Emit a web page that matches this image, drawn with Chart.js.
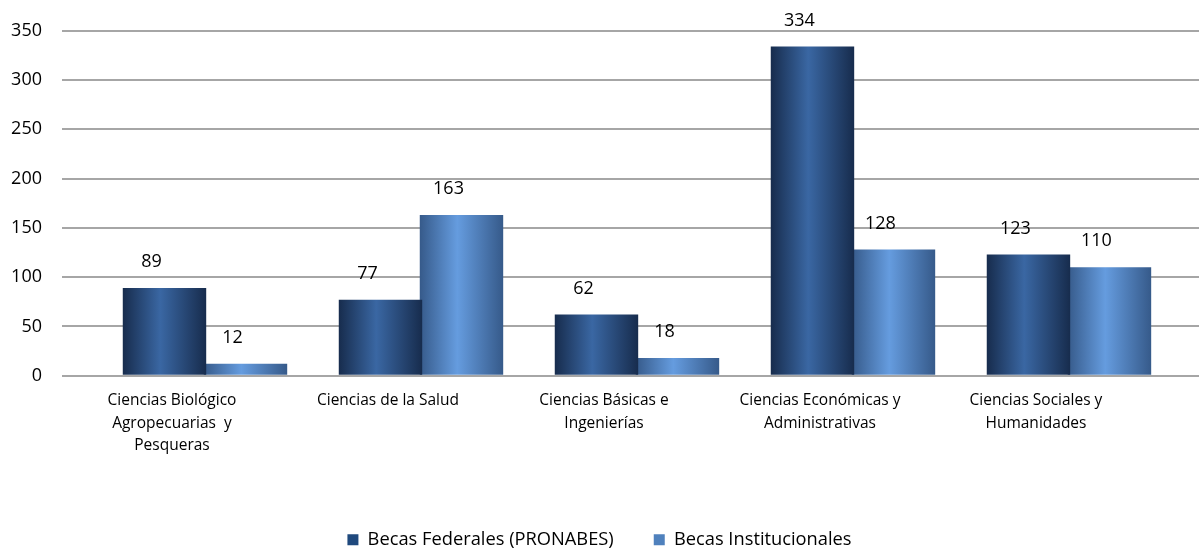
<!DOCTYPE html>
<html>
<head>
<meta charset="utf-8">
<script src="https://cdn.jsdelivr.net/npm/chart.js@4/dist/chart.umd.min.js"></script>
<style>
  html, body { margin: 0; padding: 0; background: #fff; }
  #wrap { width: 1199px; height: 548px; }
</style>
</head>
<body>
<div id="wrap"><canvas id="myChart" width="1199" height="548"></canvas></div>
<script>
const categorias = [
  ['Ciencias Biológico', 'Agropecuarias  y', 'Pesqueras'],
  'Ciencias de la Salud',
  ['Ciencias Básicas e', 'Ingenierías'],
  ['Ciencias Económicas y', 'Administrativas'],
  ['Ciencias Sociales y', 'Humanidades']
];
const federales = [89, 77, 62, 334, 123];
const institucionales = [12, 163, 18, 128, 110];
const ticksY = [0, 50, 100, 150, 200, 250, 300, 350];

const fuente = '"Open Sans", sans-serif';
const CP = 0.75, BP = 1.03;

// degradado horizontal tipo cilindro, calculado desde la escala
function degradado(c, oscuro, claro) {
  const chart = c.chart;
  const x = chart.scales && chart.scales.x;
  if (!chart.chartArea || !x || c.type !== 'data') return claro;
  const paso = x.getPixelForValue(1) - x.getPixelForValue(0);
  const slot = paso * CP / 2;
  const centro = x.getPixelForValue(c.dataIndex) + (c.datasetIndex - 0.5) * slot;
  const ancho = slot * BP;
  const g = chart.ctx.createLinearGradient(centro - ancho / 2, 0, centro + ancho / 2, 0);
  g.addColorStop(0, oscuro);
  g.addColorStop(0.45, claro);
  g.addColorStop(1, oscuro);
  return g;
}

const etiquetas = {
  id: 'etiquetas',
  afterDatasetsDraw(chart) {
    const ctx = chart.ctx;
    ctx.save();
    ctx.font = '18px ' + fuente;
    ctx.fillStyle = '#000';
    ctx.textAlign = 'center';
    ctx.textBaseline = 'middle';
    chart.data.datasets.forEach((ds, i) => {
      chart.getDatasetMeta(i).data.forEach((bar, j) => {
        ctx.fillText(ds.data[j].y, bar.x - 13, bar.y - 26);
      });
    });
    ctx.restore();
  }
};

const ctx = document.getElementById('myChart');

new Chart(ctx, {
  type: 'bar',
  data: {
    datasets: [{
      label: 'Becas Federales (PRONABES)',
      data: federales.map((v, i) => ({ x: i, y: v })),
      backgroundColor: c => degradado(c, '#172c4d', '#3a67a3'),
      borderWidth: 0,
      categoryPercentage: CP,
      barPercentage: BP
    }, {
      label: 'Becas Institucionales',
      data: institucionales.map((v, i) => ({ x: i, y: v })),
      backgroundColor: c => degradado(c, '#365a8a', '#659cdf'),
      borderWidth: 0,
      categoryPercentage: CP,
      barPercentage: BP
    }]
  },
  options: {
    responsive: false,
    animation: false,
    layout: { padding: { top: 30, right: 0, left: 0, bottom: -11 } },
    plugins: {
      tooltip: { enabled: false },
      legend: {
        position: 'bottom',
        labels: {
          boxWidth: 11,
          boxHeight: 11,
          padding: 40,
          color: '#000',
          font: { family: fuente, size: 18.3 },
          generateLabels: chart => [
            { text: chart.data.datasets[0].label, fillStyle: '#1f497d', strokeStyle: '#1f497d', lineWidth: 0, datasetIndex: 0 },
            { text: chart.data.datasets[1].label, fillStyle: '#4f81bd', strokeStyle: '#4f81bd', lineWidth: 0, datasetIndex: 1 }
          ]
        }
      }
    },
    scales: {
      x: {
        type: 'linear',
        offset: false,
        min: -0.662,
        max: 4.602,
        afterBuildTicks: s => { s.ticks = categorias.map((c, i) => ({ value: i })); },
        afterFit: s => { s.height = 115; },
        grid: { display: false },
        border: { display: false },
        ticks: {
          autoSkip: false,
          maxRotation: 0,
          labelOffset: -33,
          padding: 5,
          color: '#000',
          font: { family: fuente, size: 15.5, lineHeight: 1.48 },
          callback: (v, i) => categorias[i]
        }
      },
      y: {
        min: 0,
        max: 350,
        afterBuildTicks: s => { s.ticks = ticksY.map(v => ({ value: v })); },
        afterFit: s => { s.width = 62; },
        grid: { color: '#a6a6a6', lineWidth: 2, drawTicks: false },
        border: { display: false },
        ticks: {
          padding: 20,
          color: '#000',
          font: { family: fuente, size: 18 }
        }
      }
    }
  },
  plugins: [etiquetas]
});
</script>
</body>
</html>
